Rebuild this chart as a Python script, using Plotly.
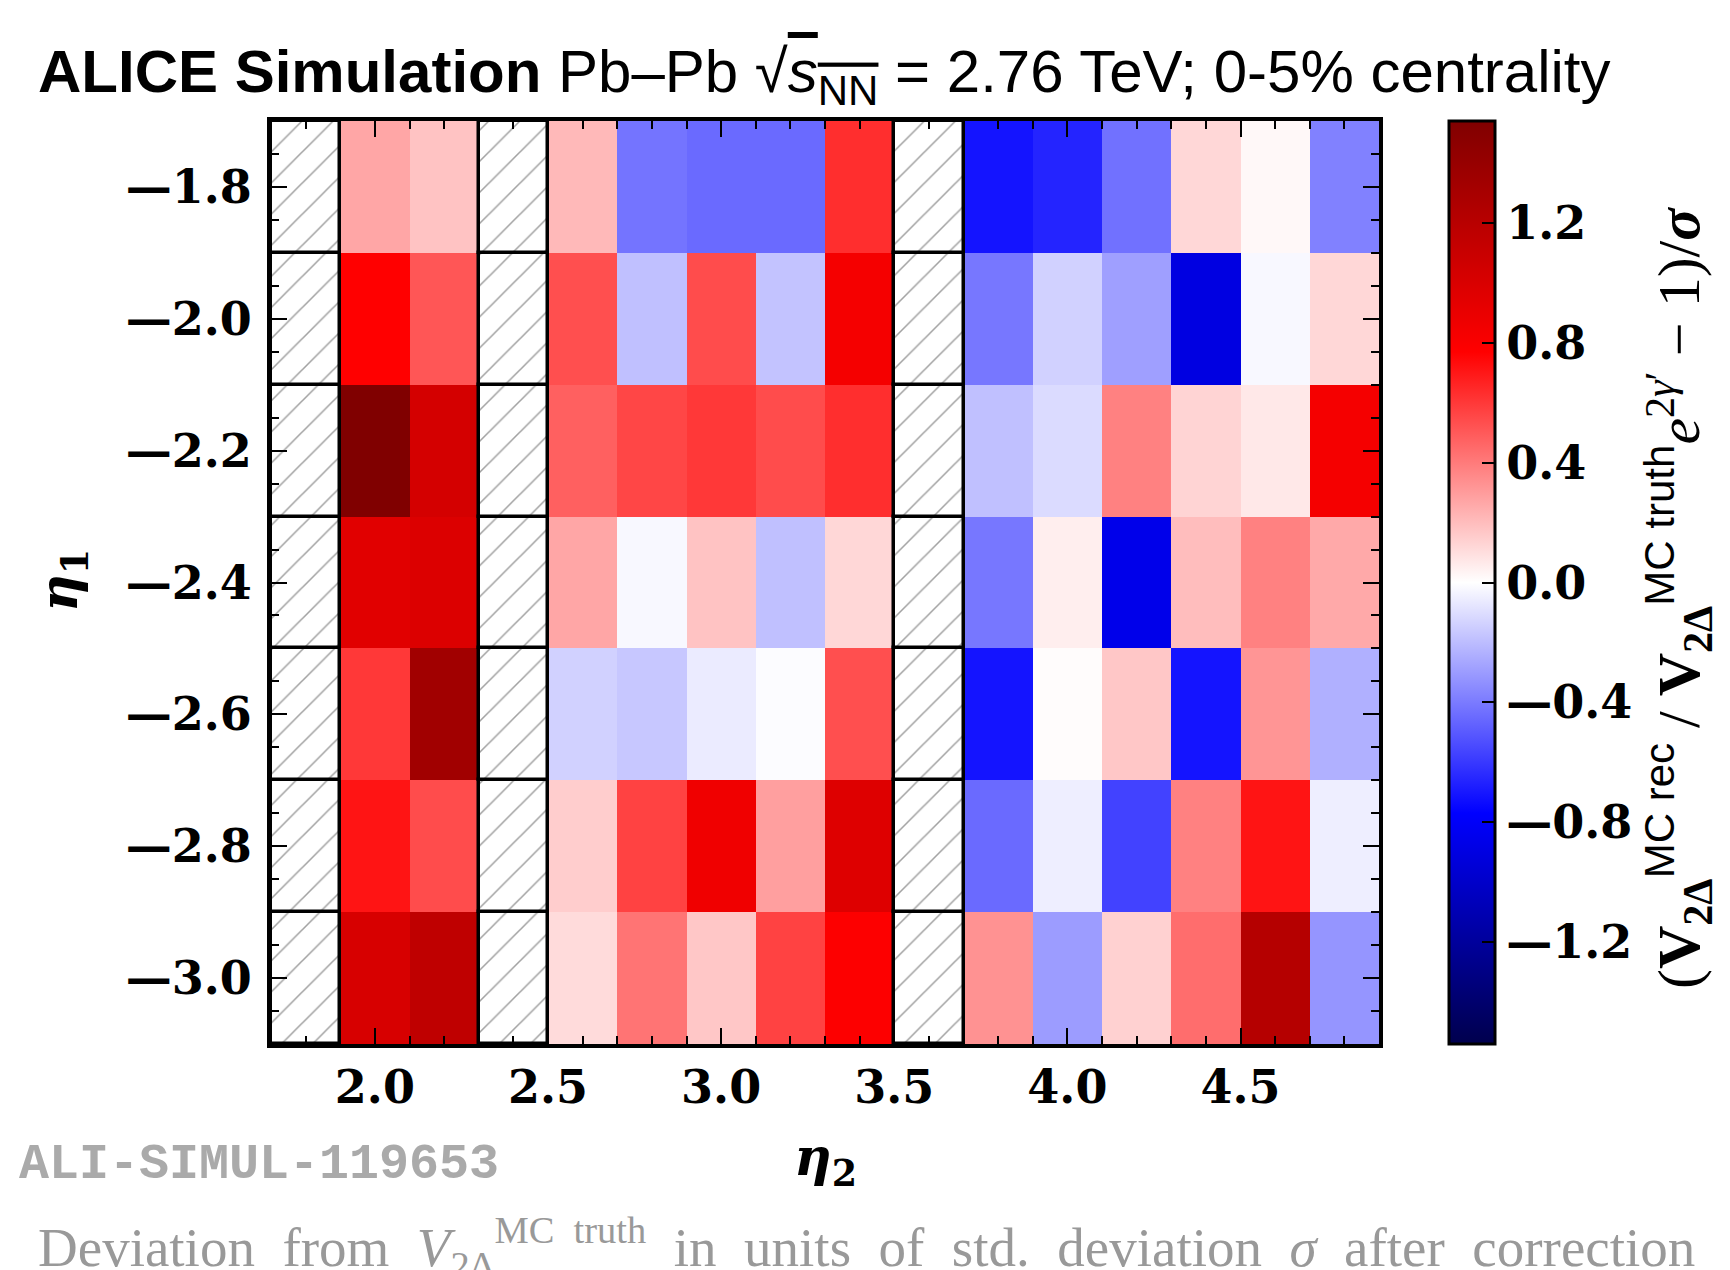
import plotly.graph_objects as go

# ---------------- data ----------------
eta2 = [1.8, 2.0, 2.2, 2.4, 2.6, 2.8, 3.0, 3.2, 3.4, 3.6, 3.8, 4.0, 4.2, 4.4, 4.6, 4.8]
eta1 = [-3.0, -2.8, -2.6, -2.4, -2.2, -2.0, -1.8]

row_m30 = [None, 1.01, 1.16, None, 0.11, 0.42, 0.17, 0.57, 0.78, None, 0.33, -0.30, 0.14, 0.44, 1.22, -0.32]
row_m28 = [None, 0.71, 0.54, None, 0.15, 0.57, 0.86, 0.29, 0.97, None, -0.45, -0.05, -0.57, 0.38, 0.71, -0.05]
row_m26 = [None, 0.60, 1.34, None, -0.14, -0.17, -0.06, -0.01, 0.53, None, -0.71, 0.01, 0.17, -0.71, 0.32, -0.24]
row_m24 = [None, 0.95, 0.98, None, 0.27, -0.02, 0.18, -0.19, 0.12, None, -0.41, 0.05, -0.86, 0.20, 0.38, 0.26]
row_m22 = [None, 1.54, 1.03, None, 0.48, 0.56, 0.60, 0.54, 0.63, None, -0.19, -0.11, 0.38, 0.13, 0.07, 0.83]
row_m20 = [None, 0.77, 0.51, None, 0.53, -0.19, 0.54, -0.18, 0.83, None, -0.41, -0.14, -0.29, -0.90, -0.02, 0.12]
row_m18 = [None, 0.27, 0.18, None, 0.21, -0.42, -0.45, -0.45, 0.63, None, -0.71, -0.66, -0.43, 0.12, 0.02, -0.38]

z = [row_m30, row_m28, row_m26, row_m24, row_m22, row_m20, row_m18]

cbar_ticks = [-1.2, -0.8, -0.4, 0.0, 0.4, 0.8, 1.2]
z_limit = 1.54
bin_w = 0.2


def fmt(v):
    s = f"{abs(v):.1f}"
    return ("\u2014" + s) if v < 0 else s


# ---------------- figure ----------------
W, H = 1730, 1270
L, R, T, B = 271, 1379, 121, 1044

seismic = [[0.0, "rgb(0,0,77)"], [0.25, "rgb(0,0,255)"], [0.5, "rgb(255,255,255)"],
           [0.75, "rgb(255,0,0)"], [1.0, "rgb(128,0,0)"]]

serif = "DejaVu Serif"
tickfont = dict(family=serif, size=46, color="black", weight="bold")

fig = go.Figure()
fig.add_trace(go.Heatmap(
    x=eta2, y=eta1, z=z, zmin=-z_limit, zmax=z_limit, colorscale=seismic,
    hoverongaps=False,
    colorbar=dict(
        x=1449 / W, xanchor="left", y=1 - B / H, yanchor="bottom", xpad=0, ypad=0,
        len=(B - T) / H, lenmode="fraction", thickness=46, thicknessmode="pixels",
        outlinewidth=3, outlinecolor="black",
        tickvals=cbar_ticks, ticktext=[fmt(v) for v in cbar_ticks],
        ticks="inside", ticklen=14, tickwidth=2,
        tickcolor="black", tickfont=tickfont,
    ),
))

# hatched (missing) cells derived from the data
hx, hb = [], []
for i, yv in enumerate(eta1):
    for j, xv in enumerate(eta2):
        if z[i][j] is None:
            hx.append(xv)
            hb.append(yv - bin_w / 2)
fig.add_trace(go.Bar(
    x=hx, y=[bin_w] * len(hx), base=hb, width=bin_w,
    marker=dict(color="white", line=dict(color="black", width=3.5),
                pattern=dict(shape="/", fgcolor="#444", bgcolor="white", size=22, solidity=0.07)),
    showlegend=False, hoverinfo="skip",
))

axis_common = dict(showgrid=False, zeroline=False, showline=True, linecolor="black", linewidth=4,
                   mirror="ticks", ticks="inside", ticklen=16, tickwidth=2, tickcolor="black",
                   tickfont=tickfont)

xticks = [2.0, 2.5, 3.0, 3.5, 4.0, 4.5]

fig.update_layout(
    width=W, height=H, margin=dict(l=0, r=0, t=0, b=0),
    paper_bgcolor="white", plot_bgcolor="white", barmode="overlay", bargap=0,
    xaxis=dict(domain=[L / W, R / W], range=[1.7, 4.9], tickvals=xticks, ticktext=[fmt(v) for v in xticks],
               minor=dict(dtick=0.1, tick0=0, ticks="inside", ticklen=8, tickwidth=2, tickcolor="black"),
               **axis_common),
    yaxis=dict(domain=[1 - B / H, 1 - T / H], range=[-3.1, -1.7], tickvals=eta1, ticktext=[fmt(v) for v in eta1],
               ticklabelstandoff=6,
               minor=dict(dtick=0.05, tick0=-1.8, ticks="inside", ticklen=8, tickwidth=2, tickcolor="black"),
               **axis_common),
    showlegend=False,
)

ann = []
ann.append(dict(x=36 / W, y=1 - 76 / H, xref="paper", yref="paper", xanchor="left", yanchor="middle",
                text="<b>ALICE Simulation</b> Pb–Pb √<span style='text-decoration:overline'><i>s</i><sub>NN</sub></span>"
                     " = 2.76 TeV; 0-5% centrality",
                showarrow=False, font=dict(family="Liberation Sans", size=60, color="black")))
ann.append(dict(x=825 / W, y=1 - 1160 / H, xref="paper", yref="paper", xanchor="center", yanchor="middle",
                text="<b><i>η</i></b><sub><b>2</b></sub>", showarrow=False,
                font=dict(family=serif, size=52, color="black")))
ann.append(dict(x=62 / W, y=1 - 581 / H, xref="paper", yref="paper", xanchor="center", yanchor="middle",
                text="<b><i>η</i></b><sub><b>1</b></sub>", showarrow=False, textangle=-90,
                font=dict(family=serif, size=52, color="black")))
sans = "<span style='font-family:Liberation Sans'>"
ann.append(dict(x=1678 / W, y=1 - 598 / H, xref="paper", yref="paper", xanchor="center", yanchor="middle",
                text="(<b>V</b><sub><b>2Δ</b></sub><sup>" + sans + "MC rec</span></sup> / <b>V</b><sub><b>2Δ</b></sub><sup>"
                     + sans + "MC truth</span></sup>"
                     "<i>e</i><sup>2<i>γ</i>′</sup> − 1)/<b><i>σ</i></b>",
                showarrow=False, textangle=-90,
                font=dict(family="Liberation Serif", size=60, color="black")))
ann.append(dict(x=17 / W, y=1 - 1164 / H, xref="paper", yref="paper", xanchor="left", yanchor="middle",
                text="<b>ALI-SIMUL-119653</b>", showarrow=False,
                font=dict(family="Liberation Mono", size=50, color="#aaaaaa")))
gap = "  "
words = ["Deviation", "from", "<i>V</i><sub>2Δ</sub><sup>MC" + gap + "truth</sup>", "in", "units", "of",
         "std.", "deviation", "<i>σ</i>", "after", "correction"]
ann.append(dict(x=36 / W, y=1 - 1247 / H, xref="paper", yref="paper", xanchor="left", yanchor="middle",
                text=gap.join(words),
                showarrow=False,
                font=dict(family="Liberation Serif", size=55, color="#999999")))
fig.update_layout(annotations=ann)

fig.write_html("out.html")
